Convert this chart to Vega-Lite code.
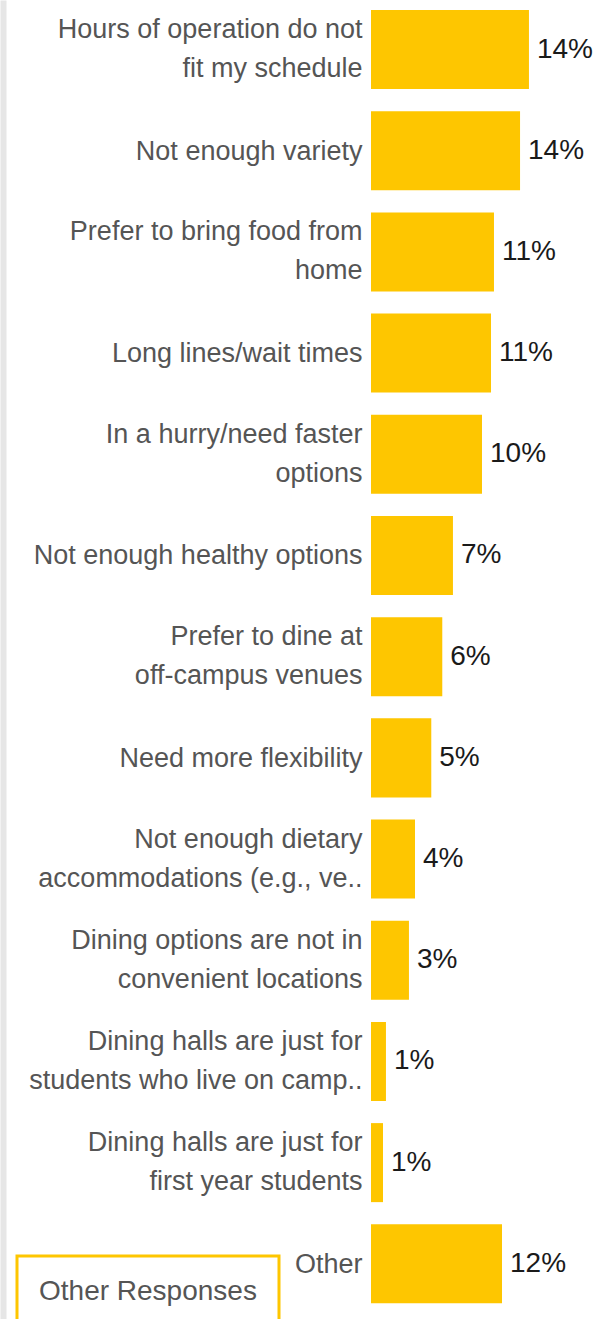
{
  "$schema": "https://vega.github.io/schema/vega-lite/v6.json",
  "autosize": {"type": "none"},
  "padding": {"left": 371, "top": 0, "right": 6, "bottom": 0},
  "width": 220,
  "height": 1319,
  "background": "#ffffff",
  "config": {
    "font": "Liberation Sans",
    "view": {"stroke": null}
  },
  "data": {
    "values": [
      {"reason": "Hours of operation do not\nfit my schedule", "share": 0.1436},
      {"reason": "Not enough variety", "share": 0.1355},
      {"reason": "Prefer to bring food from\nhome", "share": 0.1118},
      {"reason": "Long lines/wait times", "share": 0.1091},
      {"reason": "In a hurry/need faster\noptions", "share": 0.1009},
      {"reason": "Not enough healthy options", "share": 0.0745},
      {"reason": "Prefer to dine at\noff-campus venues", "share": 0.0648},
      {"reason": "Need more flexibility", "share": 0.0548},
      {"reason": "Not enough dietary\naccommodations (e.g., ve..", "share": 0.04},
      {"reason": "Dining options are not in\nconvenient locations", "share": 0.0345},
      {"reason": "Dining halls are just for\nstudents who live on camp..", "share": 0.0136},
      {"reason": "Dining halls are just for\nfirst year students", "share": 0.0109},
      {"reason": "Other", "share": 0.1191}
    ]
  },
  "encoding": {
    "y": {
      "field": "reason",
      "type": "nominal",
      "sort": null,
      "scale": {"paddingInner": 0.219, "paddingOuter": 0.127, "align": 0.39}
    },
    "x": {
      "field": "share",
      "type": "quantitative",
      "scale": {"domain": [0, 0.2], "nice": false, "zero": true},
      "axis": null
    }
  },
  "layer": [
    {
      "mark": {"type": "bar"},
      "encoding": {
        "y": {
          "field": "reason",
          "type": "nominal",
          "sort": null,
          "axis": {
            "title": null,
            "domain": false,
            "ticks": false,
            "grid": false,
            "labelExpr": "split(datum.label, '\\n')",
            "labelFontSize": 27,
            "labelLineHeight": 39,
            "labelColor": "#555555",
            "labelPadding": 9,
            "labelLimit": 400,
            "labelAlign": "right",
            "labelBaseline": "middle",
            "labelOffset": {"condition": {"test": "indexof(datum.value, '\\n') >= 0", "value": -19.5}, "value": 1}
          }
        },
        "color": {
          "datum": "Other Responses",
          "type": "nominal",
          "scale": {"range": ["#fec600"]},
          "legend": {
            "title": null,
            "orient": "none",
            "legendX": -354,
            "legendY": 1256,
            "padding": 22,
            "strokeColor": "#fec600",
            "fillColor": "#ffffff",
            "symbolSize": 0,
            "symbolOpacity": 0,
            "labelOffset": -28,
            "labelFontSize": 28,
            "labelColor": "#555555",
            "labelLimit": 400,
            "encode": {"legend": {"update": {"strokeWidth": {"value": 3}}}}
          }
        }
      }
    },
    {
      "mark": {"type": "text", "align": "left", "baseline": "middle", "dx": 8, "fontSize": 28, "color": "#1a1a1a"},
      "encoding": {
        "y": {
          "field": "reason",
          "type": "nominal",
          "sort": null,
          "axis": {
            "orient": "left",
            "offset": 368,
            "title": null,
            "labels": false,
            "ticks": false,
            "grid": false,
            "domain": true,
            "domainColor": "#e6e6e6",
            "domainWidth": 6
          }
        },
        "text": {"field": "share", "type": "quantitative", "format": ".0%"}
      }
    }
  ],
  "resolve": {"axis": {"y": "independent"}}
}
